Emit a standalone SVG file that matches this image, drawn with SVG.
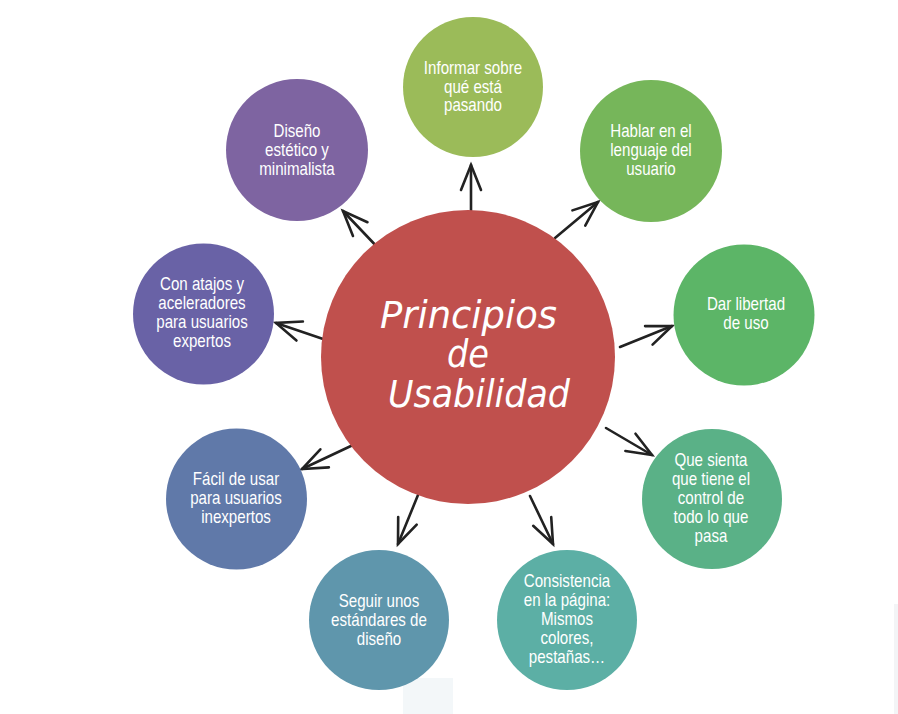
<svg xmlns="http://www.w3.org/2000/svg" width="898" height="714" viewBox="0 0 898 714">
  <style>
    .lbl { font-family: 'Liberation Sans', Arial, sans-serif; font-size: 18px; fill: #ffffff; text-anchor: middle; }
    .title { font-family: 'DejaVu Sans', sans-serif; font-style: oblique; font-size: 37px; fill: #ffffff; }
    .arrow { fill: none; stroke: #222222; stroke-width: 2.6; stroke-linecap: round; marker-end: url(#head); }
  </style>
  <defs>
    <marker id="head" viewBox="-30 -14 34 28" refX="0" refY="0" markerWidth="34" markerHeight="28" markerUnits="userSpaceOnUse" orient="auto">
      <path d="M -25 -10 L 0 0 L -25 10" fill="none" stroke="#222222" stroke-width="2.6" stroke-linecap="round" stroke-linejoin="miter"/>
    </marker>
  </defs>

  <rect width="898" height="714" fill="#ffffff"/>
  <!-- faint background marks -->
  <rect x="403" y="678" width="50" height="36" fill="#f3f7f9"/>
  <rect x="894" y="604" width="4" height="110" fill="#f3f4f6"/>

  <!-- connectors -->
  <g id="connectors">
    <path class="arrow" d="M 471 220 L 471 165"/>
    <path class="arrow" d="M 555 238 L 598 202"/>
    <path class="arrow" d="M 620 347 L 672 326"/>
    <path class="arrow" d="M 606 428 L 652 455"/>
    <path class="arrow" d="M 530 496 L 553 544"/>
    <path class="arrow" d="M 418 495 L 398 544"/>
    <path class="arrow" d="M 353 445 L 302 469"/>
    <path class="arrow" d="M 329 341 L 276 323"/>
    <path class="arrow" d="M 381 251 L 343 211"/>
  </g>

  <g id="center">
    <circle cx="468" cy="357" r="147" fill="#c0504d"/>
    <text class="title" x="380" y="328" textLength="177" lengthAdjust="spacingAndGlyphs">Principios</text>
    <text class="title" x="447" y="367" textLength="42" lengthAdjust="spacingAndGlyphs">de</text>
    <text class="title" x="388" y="407" textLength="182" lengthAdjust="spacingAndGlyphs">Usabilidad</text>
  </g>

  <!-- labels are condensed horizontally about each circle's centre: matrix(0.84,0,0,1,0.16*cx,0) -->
  <g id="informar">
    <circle cx="473" cy="87" r="70" fill="#9bbb59"/>
    <g transform="matrix(0.84 0 0 1 75.68 0)">
      <text class="lbl" x="473" y="74">Informar sobre</text>
      <text class="lbl" x="473" y="93">qué está</text>
      <text class="lbl" x="473" y="111">pasando</text>
    </g>
  </g>

  <g id="hablar">
    <circle cx="651" cy="151" r="71" fill="#76b65a"/>
    <g transform="matrix(0.84 0 0 1 104.16 0)">
      <text class="lbl" x="651" y="137">Hablar en el</text>
      <text class="lbl" x="651" y="156">lenguaje del</text>
      <text class="lbl" x="651" y="175">usuario</text>
    </g>
  </g>

  <g id="libertad">
    <circle cx="744" cy="315" r="70.5" fill="#5cb567"/>
    <g transform="matrix(0.84 0 0 1 119.36 0)">
      <text class="lbl" x="746" y="310">Dar libertad</text>
      <text class="lbl" x="746" y="329">de uso</text>
    </g>
  </g>

  <g id="control">
    <circle cx="712" cy="499" r="70" fill="#5ab187"/>
    <g transform="matrix(0.84 0 0 1 113.76 0)">
      <text class="lbl" x="711" y="466">Que sienta</text>
      <text class="lbl" x="711" y="485">que tiene el</text>
      <text class="lbl" x="711" y="504">control de</text>
      <text class="lbl" x="711" y="523">todo lo que</text>
      <text class="lbl" x="711" y="542">pasa</text>
    </g>
  </g>

  <g id="consistencia">
    <circle cx="567" cy="620" r="70" fill="#5cafa5"/>
    <g transform="matrix(0.84 0 0 1 90.72 0)">
      <text class="lbl" x="567" y="587">Consistencia</text>
      <text class="lbl" x="567" y="606">en la página:</text>
      <text class="lbl" x="567" y="625">Mismos</text>
      <text class="lbl" x="567" y="644">colores,</text>
      <text class="lbl" x="567" y="663">pestañas…</text>
    </g>
  </g>

  <g id="estandares">
    <circle cx="379" cy="620" r="70" fill="#5f96ac"/>
    <g transform="matrix(0.84 0 0 1 60.64 0)">
      <text class="lbl" x="379" y="607">Seguir unos</text>
      <text class="lbl" x="379" y="626">estándares de</text>
      <text class="lbl" x="379" y="645">diseño</text>
    </g>
  </g>

  <g id="inexpertos">
    <circle cx="236.5" cy="499" r="70.5" fill="#6079a9"/>
    <g transform="matrix(0.84 0 0 1 37.76 0)">
      <text class="lbl" x="236" y="485">Fácil de usar</text>
      <text class="lbl" x="236" y="504">para usuarios</text>
      <text class="lbl" x="236" y="523">inexpertos</text>
    </g>
  </g>

  <g id="expertos">
    <circle cx="203.5" cy="314" r="70.5" fill="#6962a6"/>
    <g transform="matrix(0.84 0 0 1 32.32 0)">
      <text class="lbl" x="202" y="290">Con atajos y</text>
      <text class="lbl" x="202" y="309">aceleradores</text>
      <text class="lbl" x="202" y="328">para usuarios</text>
      <text class="lbl" x="202" y="347">expertos</text>
    </g>
  </g>

  <g id="minimalista">
    <circle cx="297" cy="150" r="71" fill="#7e64a1"/>
    <g transform="matrix(0.84 0 0 1 47.52 0)">
      <text class="lbl" x="297" y="137">Diseño</text>
      <text class="lbl" x="297" y="156">estético y</text>
      <text class="lbl" x="297" y="175">minimalista</text>
    </g>
  </g>
</svg>
